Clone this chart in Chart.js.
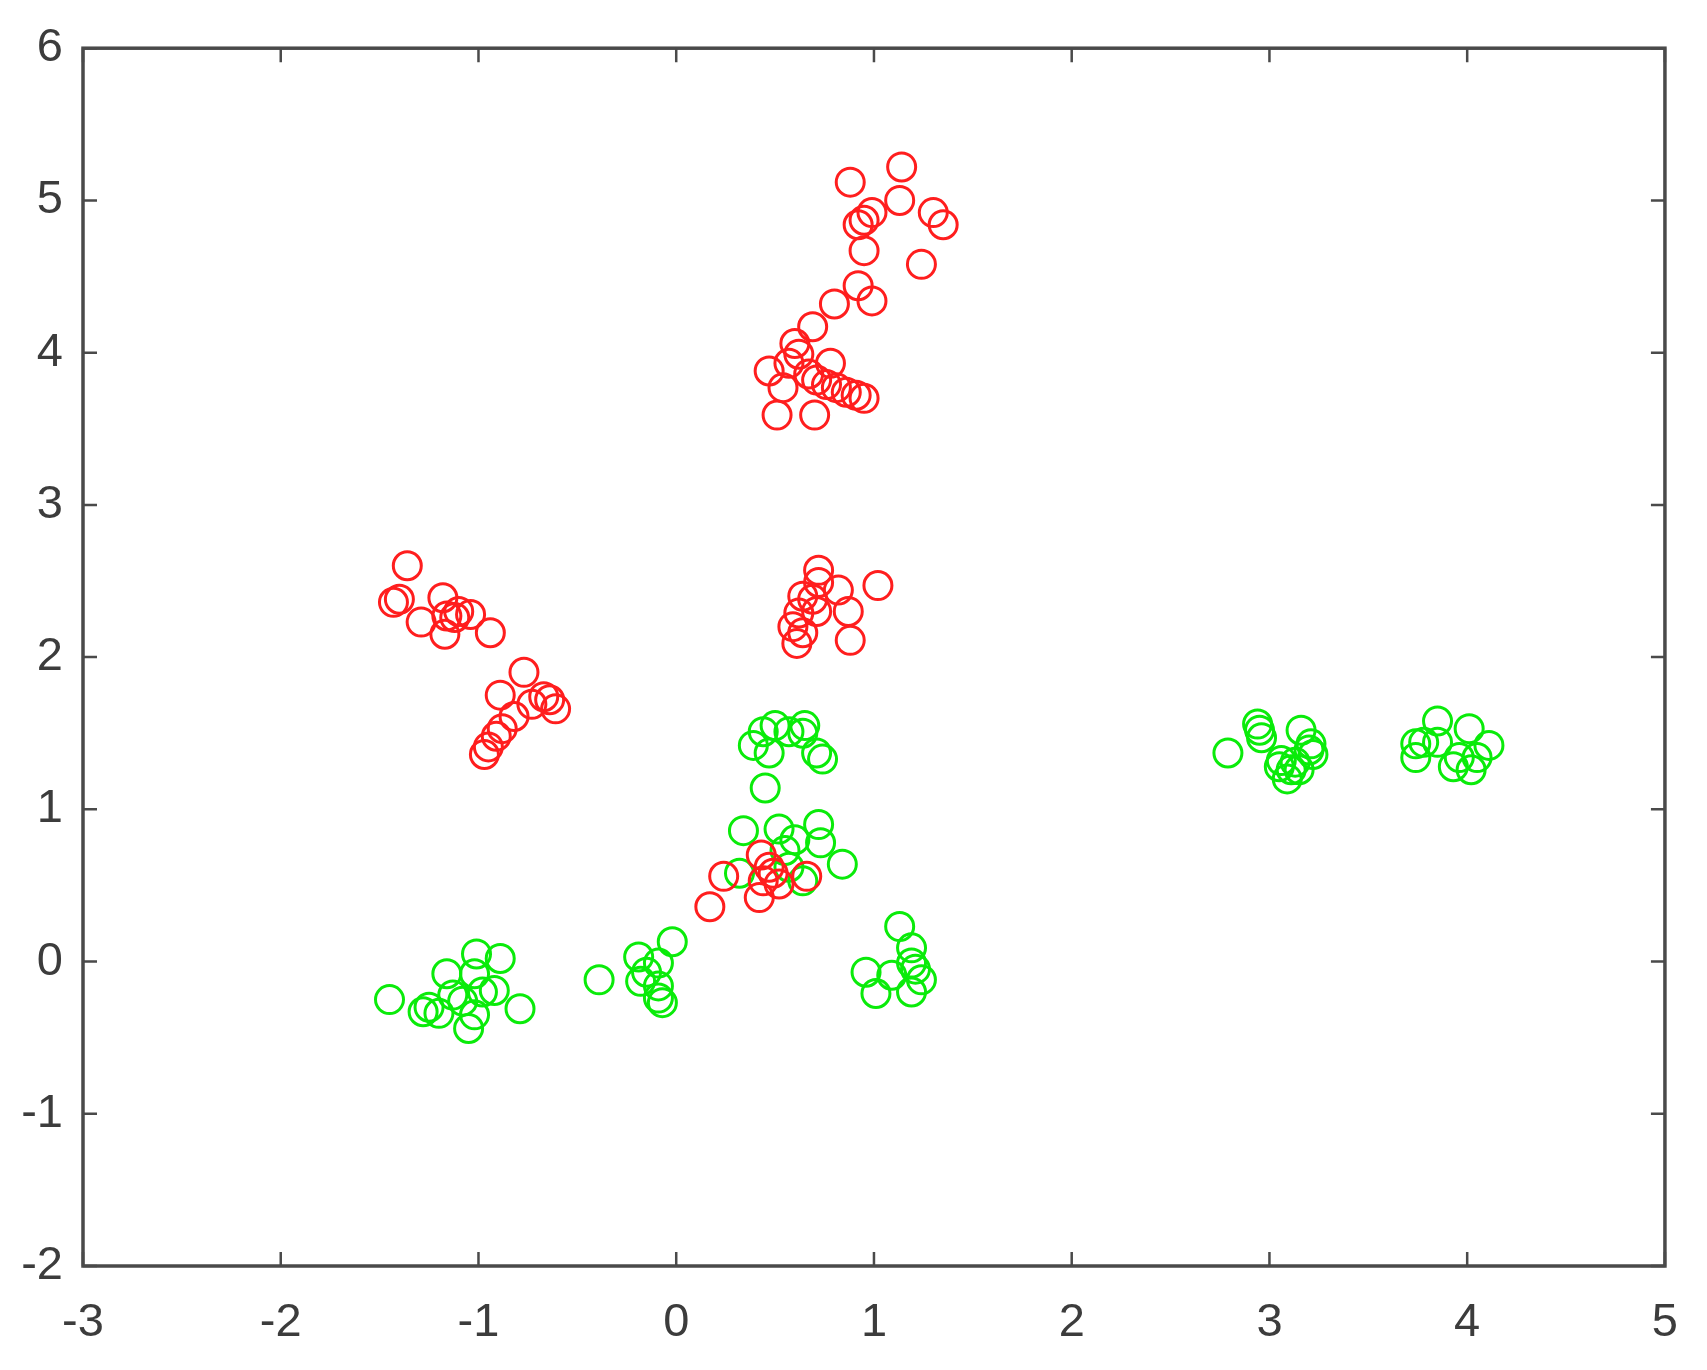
<!DOCTYPE html>
<html>
<head>
<meta charset="utf-8">
<script src="https://cdn.jsdelivr.net/npm/chart.js@4"></script>
<style>
  html, body { margin: 0; padding: 0; background: #fff; }
  #wrap { width: 1707px; height: 1370px; }
</style>
</head>
<body>
<div id="wrap"><canvas id="myChart" width="1707" height="1370"></canvas></div>
<script>
'use strict';

// red class points
const redX = [1.14, 0.88, 1.13, 0.99, 0.95, 0.92, 1.30, 1.35, 0.95, 1.24, 0.92, 0.99, 0.80, 0.69, 0.60,
  0.62, 0.47, 0.78, 0.54, 0.71, 0.76, 0.81, 0.86, 0.91, 0.95, 0.51, 0.70, 0.67, 0.57,
  -1.36, -1.43, -1.40, -1.29, -1.18, -1.16, -1.12, -1.17, -1.04, -0.94, -1.10,
  -0.77, -0.89, -0.67, -0.73, -0.61, -0.82, -0.88, -0.91, -0.95, -0.97, -0.64,
  0.72, 1.02, 0.82, 0.64, 0.69, 0.71, 0.87, 0.62, 0.59, 0.64, 0.61, 0.88, 0.72,
  0.43, 0.24, 0.44, 0.49, 0.52, 0.66, 0.42, 0.17, 0.47];
const redY = [5.22, 5.12, 5.00, 4.92, 4.87, 4.84, 4.92, 4.84, 4.67, 4.58, 4.44, 4.34, 4.32, 4.17, 4.06,
  3.99, 3.88, 3.93, 3.77, 3.82, 3.79, 3.77, 3.74, 3.72, 3.70, 3.59, 3.59, 3.86, 3.93,
  2.60, 2.36, 2.38, 2.23, 2.39, 2.27, 2.26, 2.15, 2.28, 2.16, 2.30,
  1.90, 1.75, 1.74, 1.69, 1.66, 1.61, 1.53, 1.48, 1.41, 1.36, 1.72,
  2.57, 2.47, 2.44, 2.40, 2.38, 2.30, 2.30, 2.29, 2.20, 2.16, 2.09, 2.11, 2.49,
  0.70, 0.56, 0.53, 0.58, 0.51, 0.56, 0.42, 0.36, 0.62];

// green class points
const greenX = [0.50, 0.65, 0.39, 0.47, 0.57, 0.71, 0.74, 0.64, 0.45, 0.44,
  0.34, 0.52, 0.72, 0.60, 0.73, 0.84, 0.55, 0.32, 0.64, 0.57,
  -1.45, -1.01, -0.89, -1.16, -1.02, -0.92, -1.13, -0.79, -1.25, -1.20, -1.05, -1.02, -1.08, -0.98, -1.28,
  -0.39, -0.02, -0.19, -0.09, -0.18, -0.09, -0.09, -0.07, -0.15,
  1.13, 1.19, 1.19, 0.96, 1.09, 1.24, 1.01, 1.19, 1.21,
  2.79, 2.94, 2.95, 2.96, 3.16, 3.21, 3.20, 3.06, 3.05, 3.11, 3.09, 3.15, 3.22, 3.13,
  3.85, 4.01, 3.74, 3.78, 3.85, 3.74, 4.11, 3.93, 4.02, 4.05, 3.96];
const greenY = [1.55, 1.55, 1.42, 1.37, 1.51, 1.37, 1.33, 1.50, 1.14, 1.51,
  0.86, 0.87, 0.90, 0.80, 0.78, 0.64, 0.73, 0.58, 0.53, 0.62,
  -0.25, 0.05, 0.02, -0.08, -0.08, -0.19, -0.22, -0.31, -0.30, -0.34, -0.44, -0.35, -0.26, -0.20, -0.33,
  -0.12, 0.13, 0.03, -0.01, -0.13, -0.16, -0.24, -0.27, -0.07,
  0.23, 0.09, -0.01, -0.07, -0.09, -0.12, -0.21, -0.20, -0.05,
  1.37, 1.56, 1.52, 1.47, 1.52, 1.43, 1.39, 1.32, 1.28, 1.26, 1.20, 1.26, 1.36, 1.31,
  1.58, 1.53, 1.43, 1.44, 1.44, 1.34, 1.42, 1.28, 1.26, 1.34, 1.34];

// axis ranges / ticks
const xTicks = [-3, -2, -1, 0, 1, 2, 3, 4, 5];
const yTicks = [-2, -1, 0, 1, 2, 3, 4, 5, 6];

const axisColor = '#4a4a4a';
const labelColor = '#3c3c3c';

function toPoints(xs, ys) {
  const pts = [];
  for (let i = 0; i < xs.length; i++) {
    pts.push({ x: xs[i], y: ys[i] });
  }
  return pts;
}

// box round the plot + inward tick marks on all four sides
const boxPlugin = {
  id: 'boxTicks',
  afterDraw(chart) {
    const ctx = chart.ctx;
    const a = chart.chartArea;
    const xs = chart.scales.x;
    const ys = chart.scales.y;
    const len = 14;
    ctx.save();
    ctx.strokeStyle = axisColor;
    ctx.lineWidth = 2.5;
    ctx.beginPath();
    xTicks.forEach(function (v) {
      const px = xs.getPixelForValue(v);
      ctx.moveTo(px, a.bottom); ctx.lineTo(px, a.bottom - len);
      ctx.moveTo(px, a.top); ctx.lineTo(px, a.top + len);
    });
    yTicks.forEach(function (v) {
      const py = ys.getPixelForValue(v);
      ctx.moveTo(a.left, py); ctx.lineTo(a.left + len, py);
      ctx.moveTo(a.right, py); ctx.lineTo(a.right - len, py);
    });
    ctx.stroke();
    ctx.lineWidth = 3.5;
    ctx.strokeRect(a.left, a.top, a.right - a.left, a.bottom - a.top);
    ctx.restore();
  }
};

const chartCanvas = document.getElementById('myChart');

new Chart(chartCanvas, {
  type: 'scatter',
  data: {
    datasets: [{
      label: 'red',
      data: toPoints(redX, redY),
      borderColor: 'rgb(255,30,30)',
      backgroundColor: 'rgba(0,0,0,0)',
      borderWidth: 3,
      pointRadius: 14,
      pointHoverRadius: 14
    }, {
      label: 'green',
      data: toPoints(greenX, greenY),
      borderColor: 'rgb(10,235,10)',
      backgroundColor: 'rgba(0,0,0,0)',
      borderWidth: 3,
      pointRadius: 14,
      pointHoverRadius: 14
    }]
  },
  options: {
    responsive: false,
    animation: false,
    layout: { padding: { top: 47, right: 38, left: 0, bottom: 0 } },
    plugins: {
      legend: { display: false },
      tooltip: { enabled: false }
    },
    scales: {
      x: {
        type: 'linear',
        min: -3,
        max: 5,
        afterFit: function (scale) { scale.height = 104; },
        afterBuildTicks: function (scale) { scale.ticks = xTicks.map(v => ({ value: v })); },
        grid: { display: false, drawTicks: false },
        border: { display: false },
        ticks: {
          color: labelColor,
          padding: 29,
          font: { family: '"Liberation Sans", Arial, sans-serif', size: 47 }
        }
      },
      y: {
        type: 'linear',
        min: -2,
        max: 6,
        afterFit: function (scale) { scale.width = 83; },
        afterBuildTicks: function (scale) { scale.ticks = yTicks.map(v => ({ value: v })); },
        grid: { display: false, drawTicks: false },
        border: { display: false },
        ticks: {
          color: labelColor,
          padding: 20,
          font: { family: '"Liberation Sans", Arial, sans-serif', size: 47 }
        }
      }
    }
  },
  plugins: [boxPlugin]
});
</script>
</body>
</html>
